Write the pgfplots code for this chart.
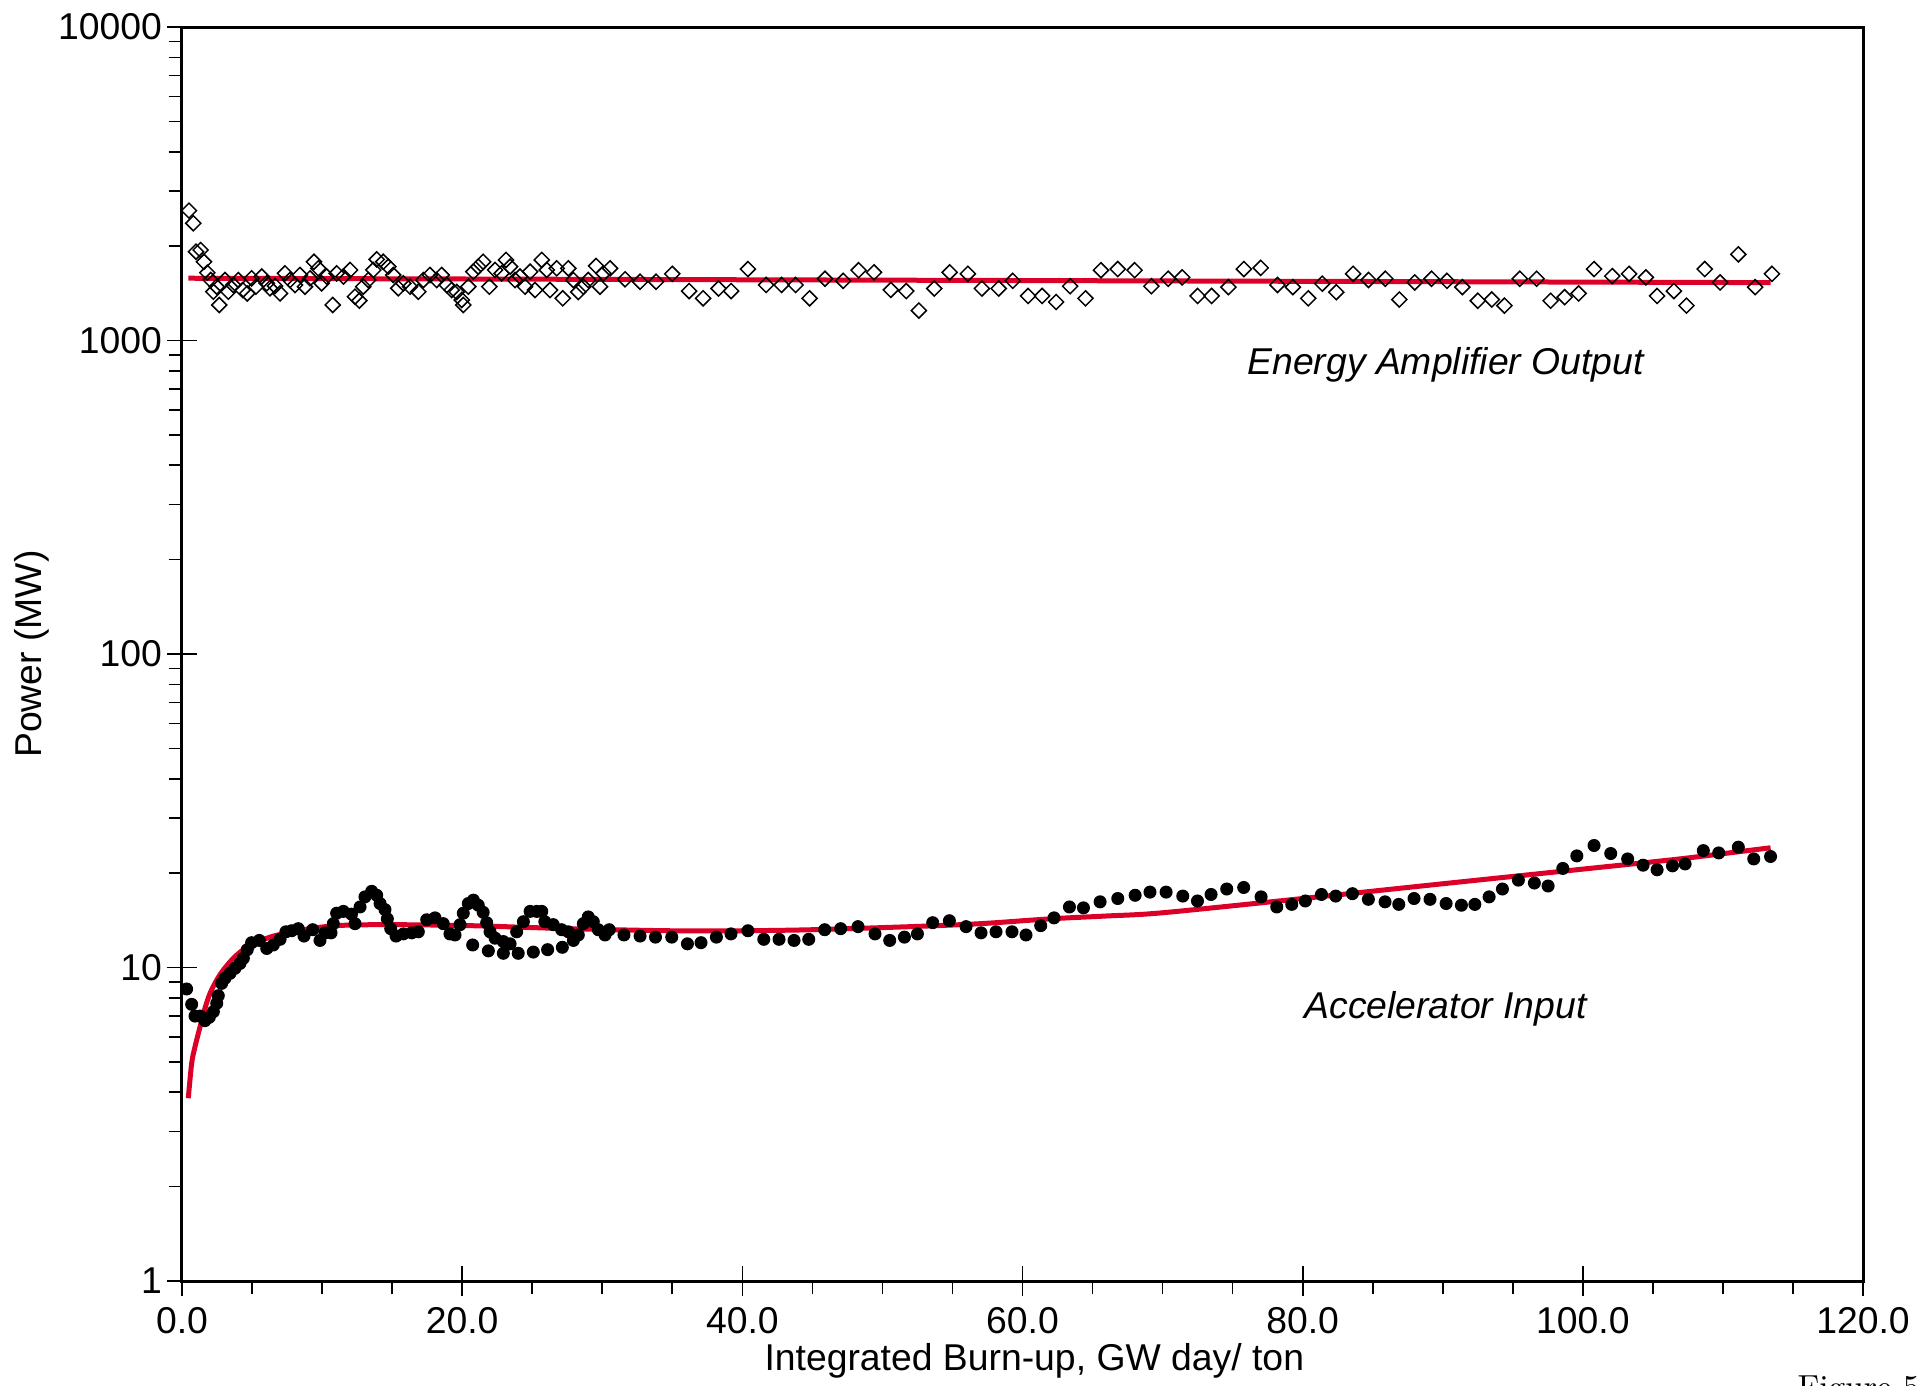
\documentclass[border=0pt]{standalone}
\usepackage{fontspec}
\setsansfont{Liberation Sans}
\renewcommand{\familydefault}{\sfdefault}
\usepackage{pgfplots}
\usepackage{pgfplotstable}
\pgfplotsset{compat=1.18}
\definecolor{fitred}{RGB}{220,0,40}

\pgfplotstableread{
x y
0.50 2596
0.81 2366
1.00 1920
1.33 1944
1.57 1783
1.81 1645
2.05 1559
2.24 1431
2.48 1485
2.66 1298
3.07 1559
3.31 1431
3.66 1503
4.02 1559
4.33 1449
4.66 1413
4.97 1579
5.28 1485
5.69 1600
6.05 1522
6.28 1468
6.64 1493
7.00 1413
7.35 1638
7.71 1559
8.07 1503
8.42 1618
8.78 1485
9.14 1579
9.42 1783
9.73 1699
9.97 1522
10.33 1600
10.76 1298
11.04 1638
11.52 1600
12.00 1679
12.35 1380
12.66 1340
12.94 1485
13.30 1559
13.66 1679
13.90 1815
14.37 1783
14.73 1720
15.08 1618
15.44 1468
15.80 1522
16.28 1485
16.87 1431
17.23 1559
17.70 1618
18.18 1559
18.54 1618
18.90 1503
19.25 1449
19.61 1428
19.97 1347
20.08 1298
20.44 1485
20.80 1658
21.15 1720
21.50 1783
21.94 1485
22.35 1679
22.82 1638
23.13 1807
23.42 1720
23.77 1559
24.13 1600
24.49 1485
24.85 1658
25.20 1449
25.68 1807
26.04 1679
26.27 1449
26.75 1699
27.18 1363
27.58 1699
27.94 1559
28.29 1428
28.65 1485
29.00 1559
29.56 1729
29.84 1485
30.08 1638
30.56 1699
31.63 1568
32.70 1540
33.84 1540
35.0 1632
36.2 1438
37.2 1363
38.3 1465
39.2 1438
40.4 1690
41.7 1504
42.8 1504
43.8 1504
44.8 1363
45.9 1574
47.2 1550
48.3 1676
49.4 1650
50.6 1450
51.7 1438
52.6 1246
53.7 1465
54.8 1650
56.1 1632
57.1 1465
58.3 1465
59.3 1550
60.4 1387
61.4 1387
62.4 1327
63.4 1490
64.5 1363
65.6 1676
66.8 1690
68.0 1676
69.2 1490
70.4 1574
71.4 1590
72.5 1387
73.5 1387
74.7 1480
75.8 1690
77.0 1705
78.2 1504
79.3 1480
80.4 1363
81.4 1518
82.4 1426
83.6 1632
84.7 1560
85.9 1574
86.9 1351
88.0 1532
89.2 1574
90.3 1550
91.4 1480
92.5 1339
93.5 1351
94.4 1292
95.5 1574
96.7 1574
97.7 1339
98.7 1375
99.7 1413
100.8 1690
102.1 1605
103.3 1632
104.5 1590
105.3 1387
106.5 1438
107.4 1292
108.7 1690
109.8 1532
111.1 1883
112.3 1480
113.5 1632
}\eadata

\pgfplotstableread{
x y
0.33 8.54
0.69 7.63
0.93 7.0
1.29 7.0
1.64 6.77
1.95 6.94
2.24 7.23
2.48 7.69
2.59 8.13
2.83 8.9
3.07 9.24
3.43 9.58
3.78 9.94
4.14 10.3
4.38 10.7
4.66 11.4
4.97 12.0
5.52 12.2
6.05 11.5
6.52 11.8
7.00 12.3
7.42 13.0
7.83 13.1
8.30 13.3
8.71 12.6
9.33 13.2
9.85 12.2
10.2 12.9
10.64 12.9
10.8 13.8
11.04 14.9
11.52 15.1
12.1 14.8
12.35 13.8
12.71 15.6
13.06 16.8
13.54 17.5
13.9 17.0
14.14 16.0
14.49 15.3
14.66 14.3
14.9 13.3
15.28 12.6
15.8 12.8
16.4 12.9
16.87 13.0
17.47 14.2
18.06 14.4
18.65 13.8
19.13 12.8
19.49 12.7
19.85 13.7
20.08 14.9
20.44 16.0
20.8 16.4
21.15 15.8
21.5 15.0
21.75 13.9
21.99 13.0
22.35 12.4
22.94 12.1
23.42 11.9
23.89 13.0
24.37 14.0
24.85 15.1
25.32 15.1
25.68 15.1
25.9 14.0
26.5 13.7
27.1 13.2
27.58 13.0
27.94 12.2
28.29 12.7
28.65 13.8
29.0 14.5
29.36 14.0
29.72 13.2
30.2 12.7
30.5 13.2
31.55 12.7
32.7 12.6
33.8 12.5
34.96 12.5
36.08 11.9
37.05 12.0
38.15 12.5
39.19 12.8
40.4 13.1
41.53 12.3
42.62 12.3
43.69 12.2
44.74 12.3
45.88 13.2
47.02 13.3
48.26 13.5
49.47 12.8
50.52 12.2
51.57 12.5
52.5 12.8
53.59 13.9
54.78 14.1
55.97 13.5
57.04 12.9
58.11 13.0
59.25 13.0
60.25 12.7
61.30 13.6
62.25 14.4
63.35 15.6
64.35 15.5
65.54 16.2
66.80 16.6
68.04 17.0
69.1 17.4
70.25 17.4
71.44 16.9
72.49 16.3
73.46 17.1
74.58 17.8
75.79 18.0
77.03 16.8
78.15 15.6
79.22 15.9
80.19 16.3
81.34 17.1
82.36 16.9
83.55 17.2
84.69 16.5
85.88 16.2
86.86 15.9
87.95 16.6
89.09 16.5
90.24 16.0
91.33 15.8
92.29 15.9
93.31 16.8
94.26 17.8
95.40 19.0
96.54 18.6
97.52 18.2
98.57 20.7
99.57 22.7
100.8 24.5
101.99 23.1
103.2 22.2
104.3 21.2
105.3 20.5
106.4 21.1
107.3 21.4
108.6 23.6
109.7 23.2
111.1 24.2
112.2 22.2
113.4 22.6
20.75 11.8
21.87 11.3
22.94 11.1
24.0 11.1
25.08 11.2
26.1 11.4
27.15 11.6
}\accdata

\pgfplotstableread{
x y
0.45 3.83
0.69 4.95
0.93 5.59
1.29 6.47
1.64 7.41
2.00 8.27
2.48 9.12
2.95 9.82
3.66 10.7
4.38 11.4
5.28 12.0
6.28 12.5
7.47 12.9
8.66 13.2
11.0 13.6
14.6 13.7
20.5 13.6
27.6 13.3
34.8 13.1
40 13.1
45 13.2
52 13.5
57 13.8
62 14.3
66 14.6
70 14.95
80 16.6
90 18.5
100 20.6
106.9 22.2
113.4 24.1
}\accfit

\begin{document}
\begin{tikzpicture}
\useasboundingbox (-54.6pt,-31.2pt) rectangle (521.1pt,384.3pt);
\begin{axis}[
  at={(0,0)}, anchor=south west,
  scale only axis, width=504.3pt, height=376.2pt,
  xmin=0, xmax=120, ymin=1, ymax=10000, ymode=log,
  xtick={0,20,...,120}, minor x tick num=3,
  ytick={1,10,100,1000,10000}, yticklabels={1,10,100,1000,10000},
  tick pos=left,
  tick align=center,
  major tick length=9pt, minor tick length=4pt,
  minor x tick style={yshift=-2pt},
  minor y tick style={xshift=-2pt},
  every tick/.style={black, line width=0.5pt},
  axis line style={line width=0.9pt},
  tick label style={font=\fontsize{11.2}{13}\selectfont},
  yticklabel style={xshift=2pt},
  xticklabel style={/pgf/number format/.cd, fixed, fixed zerofill, precision=1, assume math mode=true},
  xlabel={Integrated Burn-up, GW day/ ton},
  ylabel={Power (MW)},
  every axis x label/.style={at={(axis description cs:0.507,0)}, anchor=center, yshift=-24pt, font=\fontsize{11.2}{13}\selectfont},
  every axis y label/.style={at={(axis description cs:-0.0895,0.5)}, anchor=center, rotate=90, font=\fontsize{11.2}{13}\selectfont},
  clip=false,
]
\addplot[fitred, line width=1.5pt] coordinates {(0.45,1580) (113.4,1530)};
\addplot[fitred, line width=1.5pt, smooth, tension=0.5] table {\accfit};
\addplot[only marks, mark=square, mark size=1.6pt, mark options={rotate=45, line width=0.45pt, draw=black, fill=none}] table {\eadata};
\addplot[only marks, mark=*, mark size=1.75pt, mark options={draw=black, fill=black}] table {\accdata};
\node[font=\itshape\fontsize{11.2}{13}\selectfont] at (axis cs:90.2,837) {Energy Amplifier Output};
\node[font=\itshape\fontsize{11.2}{13}\selectfont] at (axis cs:90.2,7.4) {Accelerator Input};
\end{axis}
\node[anchor=north west, inner sep=0pt, font=\rmfamily\fontsize{10}{12}\selectfont] at (484.5pt,-28.2pt) {Figure 5};
\end{tikzpicture}
\end{document}
